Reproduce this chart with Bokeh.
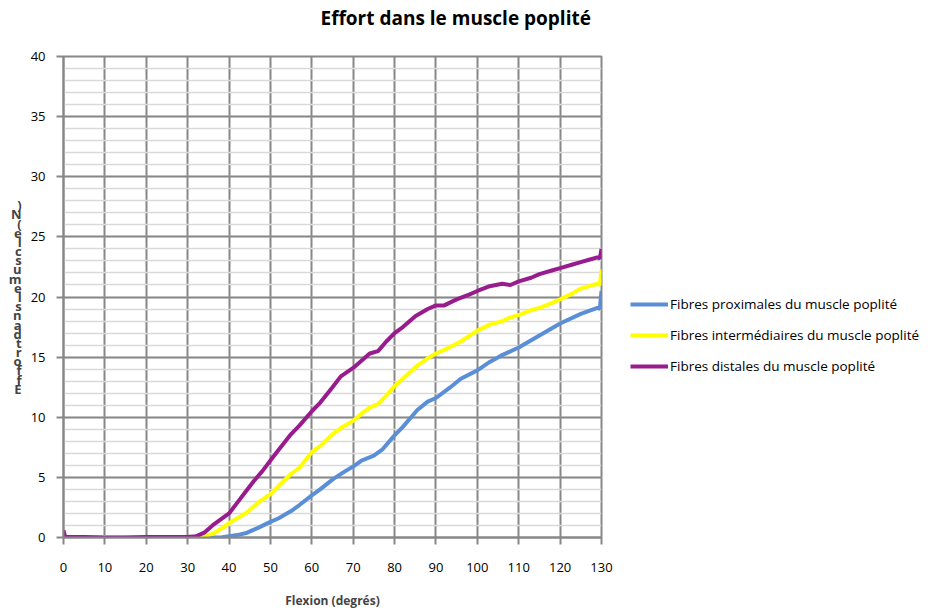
from bokeh.plotting import figure
from bokeh.models import Legend, LegendItem, Range1d, FixedTicker, Title
from bokeh.embed import file_html
from bokeh.resources import INLINE

# ---------------- data ----------------
title_text = "Effort dans le muscle poplité"
x_label = "Flexion (degrés)"
y_label = "Effort dans le muscle (N)"

x_ticks = list(range(0, 131, 10))
y_ticks = list(range(0, 41, 5))

prox_x = [0, 5, 10, 15, 20, 25, 30, 35, 38, 40, 42, 44.4, 47, 50, 52, 55, 57, 60, 62, 65.3, 68, 70,
          72, 75, 77, 79, 80, 82, 85.5, 88, 90, 93.5, 96, 100, 103, 105.6, 110, 115, 120, 125,
          129, 129.6, 130]
prox_y = [0, 0, 0, 0, 0, 0, 0, 0, 0, 0.1, 0.2, 0.4, 0.8, 1.3, 1.6, 2.2, 2.7, 3.5, 4.0, 4.9, 5.5, 5.9,
          6.4, 6.8, 7.3, 8.1, 8.5, 9.2, 10.6, 11.3, 11.6, 12.5, 13.2, 13.9, 14.6, 15.1, 15.8, 16.8,
          17.8, 18.6, 19.1, 19.0, 20.5]

inter_x = [0, 5, 10, 15, 20, 25, 30, 33, 35, 36.3, 38, 40, 42, 44.4, 47, 50, 52, 55, 57, 60, 62, 65,
           67, 70, 72, 74, 76, 78, 80, 82, 85.5, 88, 90, 92, 96, 100, 103, 106, 108, 110, 113, 115,
           118, 120, 123, 125, 127, 129, 129.6, 130]
inter_y = [0.05, 0.05, 0.05, 0.05, 0.05, 0.05, 0.05, 0.0, 0.2, 0.35, 0.7, 1.2, 1.6, 2.1, 2.9, 3.6,
           4.3, 5.3, 5.8, 7.1, 7.6, 8.6, 9.1, 9.7, 10.3, 10.8, 11.1, 11.8, 12.6, 13.2, 14.3, 14.9,
           15.3, 15.6, 16.3, 17.2, 17.7, 18.0, 18.3, 18.5, 18.9, 19.1, 19.5, 19.8, 20.3, 20.7, 20.9,
           21.1, 21.0, 22.3]

dist_x = [0, 0.4, 5, 10, 15, 20, 25, 30, 32, 34, 36, 38, 40, 42, 44, 46, 48, 50, 52, 55, 57, 60, 62,
          65, 67, 70, 72, 74, 76, 78, 80, 82, 85, 88, 90, 92, 95, 98, 100, 103, 106, 108, 110, 113,
          115, 118, 120, 123, 125, 127, 129, 129.6, 130]
dist_y = [0.6, 0.05, 0.05, 0.0, 0.0, 0.05, 0.05, 0.05, 0.1, 0.4, 1.0, 1.5, 2.0, 2.9, 3.8, 4.7, 5.5,
          6.4, 7.3, 8.6, 9.3, 10.5, 11.2, 12.5, 13.4, 14.1, 14.7, 15.3, 15.5, 16.3, 17.0, 17.5,
          18.4, 19.0, 19.3, 19.3, 19.8, 20.2, 20.5, 20.9, 21.1, 21.0, 21.3, 21.6, 21.9, 22.2, 22.4,
          22.7, 22.9, 23.1, 23.3, 23.2, 24.0]

series_names = ["Fibres proximales du muscle poplité",
                "Fibres intermédiaires du muscle poplité",
                "Fibres distales du muscle poplité"]
series_colors = ["#5A8FD8", "#FFFF00", "#991C8E"]

# ---------------- figure ----------------
FONT = "Open Sans"
GRID_DARK = "#878787"

p = figure(frame_width=538, frame_height=481, output_backend="svg", toolbar_location=None,
           x_range=Range1d(0, 130), y_range=Range1d(0, 40),
           min_border_left=63, min_border_right=0, min_border_top=56, min_border_bottom=0)
p.outline_line_color = GRID_DARK
p.outline_line_width = 2
p.background_fill_color = "white"
p.border_fill_color = "white"

p.xaxis.ticker = FixedTicker(ticks=x_ticks)
p.yaxis.ticker = FixedTicker(ticks=y_ticks, minor_ticks=list(range(0, 41)))

for ax in (p.xaxis, p.yaxis):
    ax.axis_line_color = GRID_DARK
    ax.axis_line_width = 2
    ax.major_tick_line_color = GRID_DARK
    ax.major_tick_line_width = 2
    ax.major_tick_out = 7
    ax.major_tick_in = 0
    ax.minor_tick_line_color = None
    ax.major_label_text_font = FONT
    ax.major_label_text_font_size = "13px"
    ax.major_label_text_color = "black"

p.xaxis.major_label_standoff = 18
p.yaxis.major_label_standoff = 11
p.xaxis.axis_label = x_label
p.xaxis.axis_label_text_font = FONT
p.xaxis.axis_label_text_font_style = "bold"
p.xaxis.axis_label_text_font_size = "12px"
p.xaxis.axis_label_standoff = 17

# y label: characters stacked vertically, bottom to top, as in the picture
stacked = "\n".join(reversed([c for c in y_label if c != " "]))
p.yaxis.axis_label = stacked
p.yaxis.axis_label_orientation = "horizontal"
p.yaxis.axis_label_text_font = FONT
p.yaxis.axis_label_text_font_style = "bold"
p.yaxis.axis_label_text_font_size = "13px"
p.yaxis.axis_label_text_line_height = 0.51
p.yaxis.axis_label_standoff = 6

p.xgrid.grid_line_color = GRID_DARK
p.xgrid.grid_line_width = 2
p.ygrid.grid_line_color = GRID_DARK
p.ygrid.grid_line_width = 2
p.ygrid.minor_grid_line_color = "#D9D9D9"
p.ygrid.minor_grid_line_width = 1.5
p.xgrid.level = "underlay"
p.ygrid.level = "underlay"

r1 = p.line(prox_x, prox_y, line_color=series_colors[0], line_width=4)
r2 = p.line(inter_x, inter_y, line_color=series_colors[1], line_width=4)
r3 = p.line(dist_x, dist_y, line_color=series_colors[2], line_width=4)

legend = Legend(items=[LegendItem(label=series_names[0], renderers=[r1]),
                       LegendItem(label=series_names[1], renderers=[r2]),
                       LegendItem(label=series_names[2], renderers=[r3])],
                location=(29, 161), orientation="vertical",
                glyph_width=38, glyph_height=20, label_height=20, label_standoff=2,
                spacing=11, padding=0, margin=0,
                border_line_color=None, background_fill_alpha=0,
                label_text_font=FONT, label_text_font_size="13.5px", label_text_color="black")
p.add_layout(legend, "right")

# blank spacer between the frame and the title, then the title itself
spacer = Title(text=" ", text_font_size="1px", standoff=23)
p.add_layout(spacer, "above")
title = Title(text=title_text, align="left", offset=257, standoff=0,
              text_font=FONT, text_font_style="bold", text_font_size="19px", text_color="black")
p.add_layout(title, "above")

open("out.html", "w").write(file_html(p, INLINE))
